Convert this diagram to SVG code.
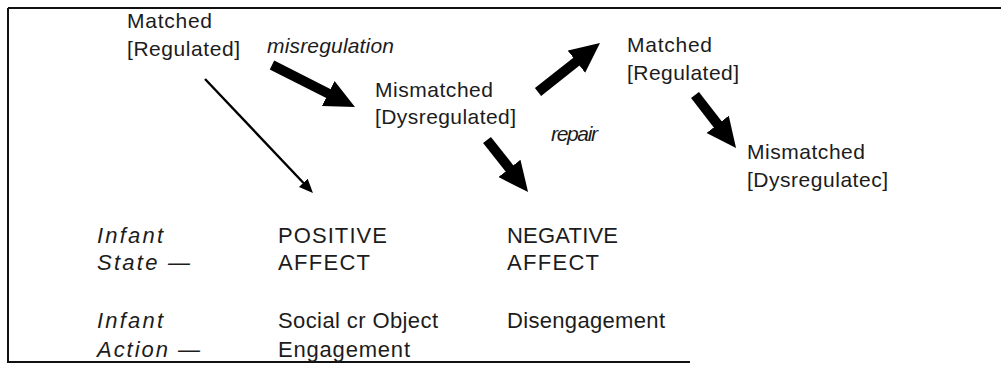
<svg xmlns="http://www.w3.org/2000/svg" width="1001" height="365" viewBox="0 0 1001 365">
<defs>
<style>
text{font-family:"Liberation Sans",Arial,sans-serif;font-size:21px;fill:#1c1c1c}
.it{font-style:italic}
.lg{font-size:22px}
.frame{stroke:#111;stroke-width:2;fill:none}
.thick{stroke:#000;stroke-width:10;fill:none}
.thin{stroke:#000;stroke-width:2.4;fill:none}
</style>
<marker id="bighead" markerUnits="userSpaceOnUse" markerWidth="32" markerHeight="30" refX="2" refY="14" orient="auto" viewBox="0 0 32 30">
<path d="M0,0 L30,14 L0,28 z" fill="#000"/>
</marker>
<marker id="smallhead" markerUnits="userSpaceOnUse" markerWidth="16" markerHeight="13" refX="1" refY="6" orient="auto" viewBox="0 0 16 13">
<path d="M0,0 L14,6 L0,12 z" fill="#000"/>
</marker>
</defs>
<rect width="1001" height="365" fill="#fff"/>
<g id="frame">
<path class="frame" d="M8,8 H1001 M8,8 V362 H690"/>
</g>
<g id="connectors">
<line class="thin" x1="205" y1="79" x2="304" y2="183.5" marker-end="url(#smallhead)"/>
<line class="thick" x1="272" y1="65" x2="330" y2="94.4" marker-end="url(#bighead)"/>
<line class="thick" x1="538" y1="92" x2="578" y2="60.4" marker-end="url(#bighead)"/>
<line class="thick" x1="487" y1="140" x2="510.7" y2="170" marker-end="url(#bighead)"/>
<line class="thick" x1="695" y1="95" x2="718.9" y2="125.9" marker-end="url(#bighead)"/>
</g>
<g id="label-misregulation"><text class="it" x="267" y="53" textLength="127" lengthAdjust="spacing">misregulation</text></g>
<g id="label-repair"><text class="it" x="551" y="141" textLength="47" lengthAdjust="spacing">repair</text></g>
<g id="node-matched-1">
<text x="127" y="28" textLength="85" lengthAdjust="spacing">Matched</text>
<text x="127" y="56" textLength="113" lengthAdjust="spacing">[Regulated]</text>
</g>
<g id="node-mismatched-1">
<text x="375" y="97" textLength="118" lengthAdjust="spacing">Mismatched</text>
<text x="375" y="124" textLength="141" lengthAdjust="spacing">[Dysregulated]</text>
</g>
<g id="node-matched-2">
<text x="627" y="52" textLength="85" lengthAdjust="spacing">Matched</text>
<text x="627" y="80" textLength="112" lengthAdjust="spacing">[Regulated]</text>
</g>
<g id="node-mismatched-2">
<text x="747" y="159" textLength="118" lengthAdjust="spacing">Mismatched</text>
<text x="747" y="187" textLength="141" lengthAdjust="spacing">[Dysregulatec]</text>
</g>
<g id="row-state-label">
<text class="it lg" x="97" y="243" textLength="66" lengthAdjust="spacing">Infant</text>
<text class="it lg" x="97" y="270" textLength="93" lengthAdjust="spacing">State —</text>
</g>
<g id="node-positive">
<text class="lg" x="278" y="243" textLength="109" lengthAdjust="spacing">POSITIVE</text>
<text class="lg" x="278" y="270" textLength="92" lengthAdjust="spacing">AFFECT</text>
</g>
<g id="node-negative">
<text class="lg" x="507" y="243" textLength="111" lengthAdjust="spacing">NEGATIVE</text>
<text class="lg" x="507" y="270" textLength="92" lengthAdjust="spacing">AFFECT</text>
</g>
<g id="row-action-label">
<text class="it lg" x="97" y="328" textLength="66" lengthAdjust="spacing">Infant</text>
<text class="it lg" x="97" y="357" textLength="103" lengthAdjust="spacing">Action —</text>
</g>
<g id="node-engagement">
<text class="lg" x="278" y="328" textLength="160" lengthAdjust="spacing">Social cr Object</text>
<text class="lg" x="278" y="357" textLength="132" lengthAdjust="spacing">Engagement</text>
</g>
<g id="node-disengagement">
<text class="lg" x="507" y="328" textLength="158" lengthAdjust="spacing">Disengagement</text>
</g>
</svg>
